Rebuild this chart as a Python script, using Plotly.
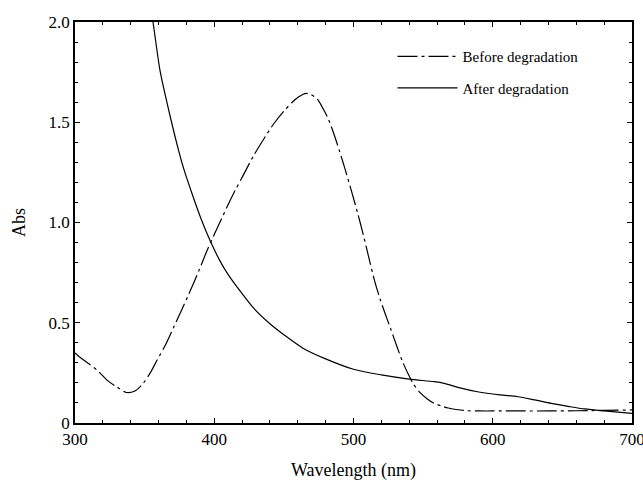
import plotly.graph_objects as go

# Before degradation (dash-dot)
before_x = [300, 305, 311, 317, 323, 330, 337, 343, 349, 354, 359, 365, 371, 377, 383, 389, 395, 400, 405, 410, 415, 420, 428, 435, 443, 450, 456, 461, 465, 469, 474, 478, 482, 486, 490, 494, 498, 503, 507, 511, 515, 519, 523, 527, 531, 535, 539, 543, 548, 553, 558, 563, 568, 575, 582, 590, 600, 620, 640, 660, 680, 700]
before_y = [0.35, 0.32, 0.29, 0.256, 0.214, 0.18, 0.152, 0.16, 0.198, 0.25, 0.314, 0.39, 0.48, 0.57, 0.663, 0.76, 0.863, 0.94, 1.015, 1.09, 1.16, 1.225, 1.33, 1.41, 1.495, 1.555, 1.6, 1.628, 1.643, 1.64, 1.615, 1.57, 1.515, 1.44, 1.355, 1.265, 1.17, 1.046, 0.94, 0.825, 0.713, 0.62, 0.54, 0.464, 0.385, 0.31, 0.248, 0.195, 0.15, 0.12, 0.098, 0.085, 0.075, 0.066, 0.061, 0.06, 0.06, 0.06, 0.06, 0.061, 0.063, 0.065]

# After degradation (solid)
after_x = [350, 353, 356, 361, 365, 369, 374, 378, 385, 391, 397, 404, 410, 420, 428, 440, 450, 464, 480, 500, 520, 540, 558, 565, 575, 589, 605, 618, 630, 642, 655, 666, 680, 700]
after_y = [2.3, 2.13, 2.0, 1.76, 1.63, 1.51, 1.37, 1.27, 1.125, 1.01, 0.91, 0.81, 0.74, 0.645, 0.575, 0.495, 0.44, 0.372, 0.32, 0.268, 0.24, 0.219, 0.206, 0.198, 0.178, 0.156, 0.14, 0.131, 0.115, 0.098, 0.082, 0.07, 0.06, 0.048]

x_ticks = [300, 400, 500, 600, 700]
y_ticks = [0, 0.5, 1.0, 1.5, 2.0]
y_tick_labels = ["0", "0.5", "1.0", "1.5", "2.0"]

font_family = "Liberation Serif, Times New Roman, serif"

fig = go.Figure()
fig.add_trace(go.Scatter(
    x=before_x, y=before_y, mode="lines", name="Before degradation",
    line=dict(color="black", width=1.2, dash="20px,4px,3px,4px", shape="spline", smoothing=0.8),
    legendgroup="a",
))
fig.add_trace(go.Scatter(
    x=after_x, y=after_y, mode="lines", name="After degradation",
    line=dict(color="black", width=1.2, shape="spline", smoothing=0.8),
    legendgroup="b",
))

axis_common = dict(
    showline=True, linecolor="black", linewidth=1.5, mirror="ticks",
    ticks="inside", ticklen=5, tickwidth=1, tickcolor="black",
    showgrid=False, zeroline=False, automargin=False,
    ticklabeloverflow="allow",
    tickfont=dict(family=font_family, size=17, color="black"),
)

fig.update_xaxes(
    range=[300, 700], tickvals=x_ticks,
    minor=dict(dtick=20, ticks="inside", ticklen=3, tickcolor="black", showgrid=False),
    title=dict(text="Wavelength (nm)", font=dict(family=font_family, size=18, color="black"), standoff=16),
    **axis_common,
)
fig.update_yaxes(
    range=[0, 2.0], tickvals=y_ticks, ticktext=y_tick_labels,
    minor=dict(dtick=0.1, ticks="inside", ticklen=3, tickcolor="black", showgrid=False),
    title=dict(text="Abs", font=dict(family=font_family, size=18, color="black"), standoff=18),
    **axis_common,
)

fig.update_layout(
    width=643, height=481,
    margin=dict(l=75, r=11, t=22, b=58),
    plot_bgcolor="white", paper_bgcolor="white",
    showlegend=True,
    legend=dict(
        x=0.570, y=0.955, xanchor="left", yanchor="top",
        bgcolor="rgba(0,0,0,0)", borderwidth=0,
        font=dict(family=font_family, size=15, color="black"),
        itemwidth=60, tracegroupgap=9,
    ),
)

fig.write_html(
    "out.html",
    config={"displayModeBar": False},
    post_script="document.body.style.margin='0';document.body.style.overflow='hidden';",
)
